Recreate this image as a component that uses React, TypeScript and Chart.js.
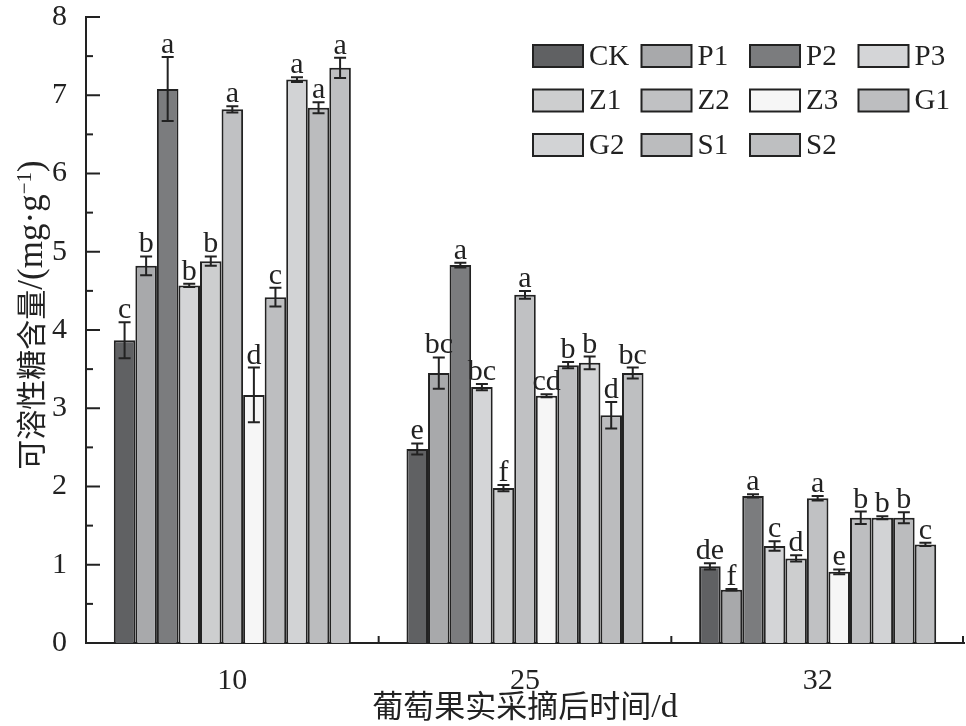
import { useEffect, useRef } from "react";
import { Chart, registerables } from "chart.js";

Chart.register(...registerables);

const DAYS = ["10", "25", "32"];
const TREATMENTS = ["CK", "P1", "P2", "P3", "Z1", "Z2", "Z3", "G1", "G2", "S1", "S2"];
const FILLS = [
  "#606163", "#a8a9ab", "#7b7c7e", "#d4d5d7", "#cdcecf", "#c0c1c3",
  "#f6f6f6", "#bdbec0", "#d2d3d5", "#bbbcbe", "#bebfc1",
];

// means per day, in TREATMENTS order
const DAY10_MEAN = [3.87, 4.82, 7.08, 4.57, 4.88, 6.82, 3.17, 4.42, 7.2, 6.84, 7.35];
const DAY25_MEAN = [2.48, 3.45, 4.83, 3.27, 1.98, 4.45, 3.16, 3.55, 3.58, 2.91, 3.45];
const DAY32_MEAN = [0.98, 0.68, 1.88, 1.24, 1.08, 1.85, 0.91, 1.6, 1.6, 1.6, 1.26];

const DAY10_ERR = [0.23, 0.12, 0.41, 0.02, 0.06, 0.04, 0.35, 0.12, 0.03, 0.07, 0.13];
const DAY25_ERR = [0.07, 0.2, 0.03, 0.04, 0.04, 0.05, 0.02, 0.04, 0.08, 0.17, 0.07];
const DAY32_ERR = [0.04, 0.01, 0.02, 0.06, 0.04, 0.03, 0.03, 0.08, 0.02, 0.07, 0.02];

const DAY10_SIG = ["c", "b", "a", "b", "b", "a", "d", "c", "a", "a", "a"];
const DAY25_SIG = ["e", "bc", "a", "bc", "f", "a", "cd", "b", "b", "d", "bc"];
const DAY32_SIG = ["de", "f", "a", "c", "d", "a", "e", "b", "b", "b", "c"];

const Y_TICKS = [0, 1, 2, 3, 4, 5, 6, 7, 8];

const MEANS = [DAY10_MEAN, DAY25_MEAN, DAY32_MEAN];
const ERRS = [DAY10_ERR, DAY25_ERR, DAY32_ERR];
const SIGS = [DAY10_SIG, DAY25_SIG, DAY32_SIG];

const INK = "#222222";
const SERIF = '"Liberation Serif", "Noto Sans CJK SC", serif';
const CJK = '"Noto Sans CJK SC", serif';

// [text, font, baseline shift]
type Seg = [string, string, number];
const X_TITLE: Seg[] = [
  ["葡萄果实采摘后时间", `31px ${CJK}`, 0],
  ["/d", `34px ${SERIF}`, 0],
];
const Y_TITLE: Seg[] = [
  ["可溶性糖含量", `30px ${CJK}`, 0],
  ["/(mg·g", `35px ${SERIF}`, 0],
  ["−1", `21px ${SERIF}`, -11],
  [")", `35px ${SERIF}`, 0],
];

function drawSegs(ctx: CanvasRenderingContext2D, segs: Seg[], cx: number, cy: number) {
  const widths = segs.map(([t, f]) => {
    ctx.font = f;
    return ctx.measureText(t).width;
  });
  let x = cx - widths.reduce((a, b) => a + b, 0) / 2;
  segs.forEach(([t, f, dy], i) => {
    ctx.font = f;
    ctx.fillText(t, x, cy + dy);
    x += widths[i];
  });
}

const overlay = {
  id: "overlay",
  afterDatasetsDraw(chart: any) {
    const { ctx, chartArea } = chart;
    const xs = chart.scales.x;
    const ys = chart.scales.y;
    ctx.save();
    ctx.strokeStyle = INK;
    ctx.fillStyle = INK;
    ctx.lineWidth = 2;

    // error bars + letters
    chart.data.datasets.forEach((_ds: any, di: number) => {
      const meta = chart.getDatasetMeta(di);
      meta.data.forEach((bar: any, ci: number) => {
        const m = MEANS[ci][di];
        const e = ERRS[ci][di];
        const top = ys.getPixelForValue(m + e);
        const bot = ys.getPixelForValue(m - e);
        const cx = bar.x;
        ctx.beginPath();
        ctx.moveTo(cx, top);
        ctx.lineTo(cx, bot);
        ctx.moveTo(cx - 6, top);
        ctx.lineTo(cx + 6, top);
        ctx.moveTo(cx - 6, bot);
        ctx.lineTo(cx + 6, bot);
        ctx.stroke();
        ctx.font = `30px ${SERIF}`;
        ctx.textAlign = "center";
        ctx.textBaseline = "alphabetic";
        ctx.fillText(SIGS[ci][di], cx, top - 4);
      });
    });

    // inward y ticks, major and minor
    for (let v = 0; v <= 8; v += 0.5) {
      const py = ys.getPixelForValue(v);
      const len = Number.isInteger(v) ? 14 : 7;
      ctx.beginPath();
      ctx.moveTo(chartArea.left, py);
      ctx.lineTo(chartArea.left + len, py);
      ctx.stroke();
    }

    // x ticks at group boundaries
    const step = (xs.right - xs.left) / DAYS.length;
    for (let i = 1; i <= DAYS.length; i++) {
      const px = Math.min(xs.left + step * i, xs.right - 1);
      ctx.beginPath();
      ctx.moveTo(px, chartArea.bottom);
      ctx.lineTo(px, chartArea.bottom - 7);
      ctx.stroke();
    }

    // legend grid
    ctx.font = `29px ${SERIF}`;
    ctx.textAlign = "left";
    ctx.textBaseline = "middle";
    TREATMENTS.forEach((name, i) => {
      const col = i % 4;
      const row = Math.floor(i / 4);
      const bx = 533 + col * 108.5;
      const by = 45 + row * 44.5;
      ctx.fillStyle = FILLS[i];
      ctx.fillRect(bx, by, 50, 22);
      ctx.strokeRect(bx, by, 50, 22);
      ctx.fillStyle = INK;
      ctx.fillText(name, bx + 56, by + 12);
    });

    // axis titles
    ctx.textAlign = "left";
    ctx.textBaseline = "alphabetic";
    drawSegs(ctx, X_TITLE, (chartArea.left + chartArea.right) / 2, 717);

    ctx.translate(42, 315);
    ctx.rotate(-Math.PI / 2);
    drawSegs(ctx, Y_TITLE, 0, 0);

    ctx.restore();
  },
};

export default function App() {
  const canvasRef = useRef<HTMLCanvasElement | null>(null);

  useEffect(() => {
    document.body.style.margin = "0";
    const canvas = canvasRef.current;
    if (!canvas) return;
    const chart = new Chart(canvas, {
      type: "bar",
      data: {
        labels: DAYS,
        datasets: TREATMENTS.map((name, i) => ({
          label: name,
          data: MEANS.map((arr) => arr[i]),
          backgroundColor: FILLS[i],
          borderColor: INK,
          borderWidth: 2,
          categoryPercentage: 0.81,
          barPercentage: 1,
        })),
      },
      options: {
        responsive: true,
        maintainAspectRatio: false,
        animation: false,
        layout: { padding: { top: 17, right: 2, left: 0, bottom: 0 } },
        plugins: {
          legend: { display: false },
          tooltip: { enabled: false },
        },
        scales: {
          x: {
            grid: { display: false },
            border: { display: true, color: INK, width: 2 },
            ticks: {
              color: INK,
              font: { family: SERIF, size: 30 },
              padding: 12,
            },
            afterFit: (s: any) => {
              s.height = 83;
              s.paddingLeft = 0;
              s.paddingRight = 0;
            },
          },
          y: {
            min: 0,
            max: 8,
            grid: { display: false },
            border: { display: true, color: INK, width: 2 },
            afterBuildTicks: (s: any) => {
              s.ticks = Y_TICKS.map((v) => ({ value: v }));
            },
            ticks: {
              color: INK,
              font: { family: SERIF, size: 30 },
              padding: 11,
            },
            afterFit: (s: any) => {
              s.width = 86;
              s.paddingTop = 0;
              s.paddingBottom = 0;
            },
          },
        },
      },
      plugins: [overlay],
    });
    return () => chart.destroy();
  }, []);

  return (
    <div style={{ width: 966, height: 726, position: "relative", background: "#fff" }}>
      <canvas ref={canvasRef} />
    </div>
  );
}
